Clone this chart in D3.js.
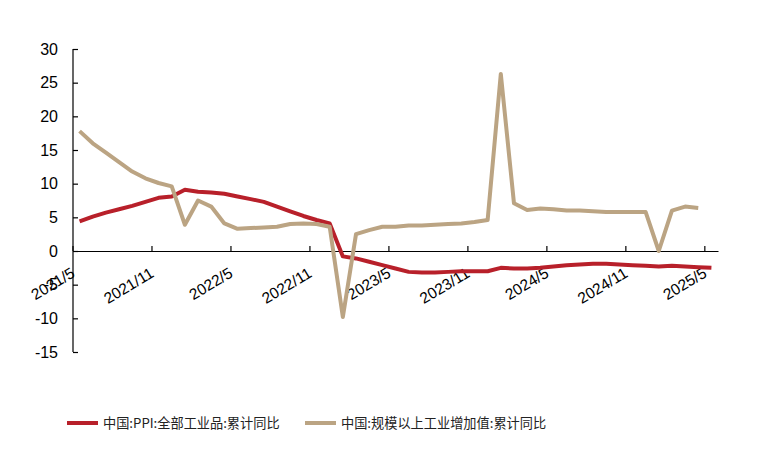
<!DOCTYPE html>
<html>
<head>
<meta charset="utf-8">
<script src="https://cdn.jsdelivr.net/npm/d3@7"></script>
<style>
  body { margin: 0; background: #fff; }
  svg { display: block; }
</style>
</head>
<body>
<div id="chart"></div>
<script>
// months 2021/5 .. 2025/5
const months = [];
for (let y = 2021, m = 5; y < 2025 || (y === 2025 && m <= 5); m++) {
    if (m > 12) { m = 1; y++; }
    months.push(y + "/" + m);
}

// 中国:PPI:全部工业品:累计同比 (2021/5 .. 2025/5)
const ppi = [
    4.4, 5.1, 5.7, 6.2, 6.7, 7.3, 7.9, 8.1,
    9.1, 8.8, 8.7, 8.5, 8.1, 7.7, 7.3, 6.6, 5.9, 5.2, 4.6, 4.1,
    -0.8, -1.1, -1.6, -2.1, -2.6, -3.1, -3.2, -3.2, -3.1, -3.0, -3.0, -3.0,
    -2.5, -2.6, -2.6, -2.5, -2.3, -2.1, -2.0, -1.9, -1.9, -2.0, -2.1, -2.2,
    -2.3, -2.2, -2.3, -2.4, -2.5
];

// 中国:规模以上工业增加值:累计同比 (2021/5 .. 2025/4)
const iva = [
    17.8, 16.0, 14.6, 13.2, 11.8, 10.8, 10.1, 9.6,
    3.9, 7.5, 6.6, 4.1, 3.3, 3.4, 3.5, 3.6, 4.0, 4.1, 4.0, 3.6,
    -9.8, 2.5, 3.1, 3.6, 3.6, 3.8, 3.8, 3.9, 4.0, 4.1, 4.3, 4.6,
    26.3, 7.1, 6.1, 6.3, 6.2, 6.0, 6.0, 5.9, 5.8, 5.8, 5.8, 5.8,
    0, 6.0, 6.6, 6.4
];

const yTicks = [-15, -10, -5, 0, 5, 10, 15, 20, 25, 30];

const seriesNames = ["中国:PPI:全部工业品:累计同比", "中国:规模以上工业增加值:累计同比"];
const colors = ["#B8202A", "#BBA483"];

const width = 759, height = 450;

const svg = d3.select("#chart").append("svg")
    .attr("width", width)
    .attr("height", height);

const x = d3.scaleBand()
    .domain(months)
    .range([73, 718])
    .padding(0);

const y = d3.scaleLinear()
    .domain([-15, 30])
    .range([352, 49]);

const cx = d => x(d) + x.bandwidth() / 2;

// y axis
const yAxis = svg.append("g")
    .attr("transform", "translate(73,0)")
    .call(d3.axisRight(y).tickValues(yTicks).tickSize(5).tickFormat(""));
yAxis.select(".domain").attr("d", "M0," + y(-15) + "V" + y(30));
yAxis.selectAll("line, path").attr("stroke", "#000").attr("stroke-width", 1.2);

svg.append("g").selectAll("text")
    .data(yTicks)
    .join("text")
    .attr("x", 58)
    .attr("y", d => y(d))
    .attr("dy", "0.36em")
    .attr("text-anchor", "end")
    .attr("font-family", "Liberation Sans, Arial, sans-serif")
    .attr("font-size", 16)
    .attr("fill", "#000")
    .text(d => d);

// x axis at zero
const tickMonths = months.filter((d, i) => i % 6 === 0);
const xAxis = svg.append("g")
    .attr("transform", "translate(0," + y(0) + ")")
    .call(d3.axisTop(x).tickValues(tickMonths).tickSize(5).tickFormat("").tickSizeOuter(0));
xAxis.selectAll(".tick").attr("transform", d => "translate(" + x(d) + ",0)");
xAxis.selectAll("line, path").attr("stroke", "#000").attr("stroke-width", 1.2);

svg.append("g").selectAll("text")
    .data(tickMonths)
    .join("text")
    .attr("transform", d => "translate(" + (x(d) + 3) + "," + (y(0) + 25) + ") rotate(-31)")
    .attr("text-anchor", "end")
    .attr("font-family", "Liberation Sans, Arial, sans-serif")
    .attr("font-size", 15.5)
    .attr("fill", "#000")
    .text(d => d);

// lines
const line = d3.line()
    .x((d, i) => cx(months[i]))
    .y(d => y(d));

svg.append("path")
    .datum(ppi)
    .attr("fill", "none")
    .attr("stroke", colors[0])
    .attr("stroke-width", 4)
    .attr("stroke-linejoin", "round")
    .attr("d", line);

svg.append("path")
    .datum(iva)
    .attr("fill", "none")
    .attr("stroke", colors[1])
    .attr("stroke-width", 4)
    .attr("stroke-linejoin", "round")
    .attr("d", line);

// legend
const legendX = [67, 305];
const legend = svg.append("g").selectAll("g")
    .data(seriesNames)
    .join("g")
    .attr("transform", (d, i) => "translate(" + legendX[i] + ",423)");

legend.append("line")
    .attr("x1", 0).attr("x2", 31)
    .attr("stroke", (d, i) => colors[i])
    .attr("stroke-width", 4);

legend.append("text")
    .attr("x", 36)
    .attr("dy", "0.38em")
    .attr("font-family", "Noto Sans CJK SC, sans-serif")
    .attr("font-size", 13.2)
    .attr("fill", "#222")
    .text(d => d);
</script>
</body>
</html>
